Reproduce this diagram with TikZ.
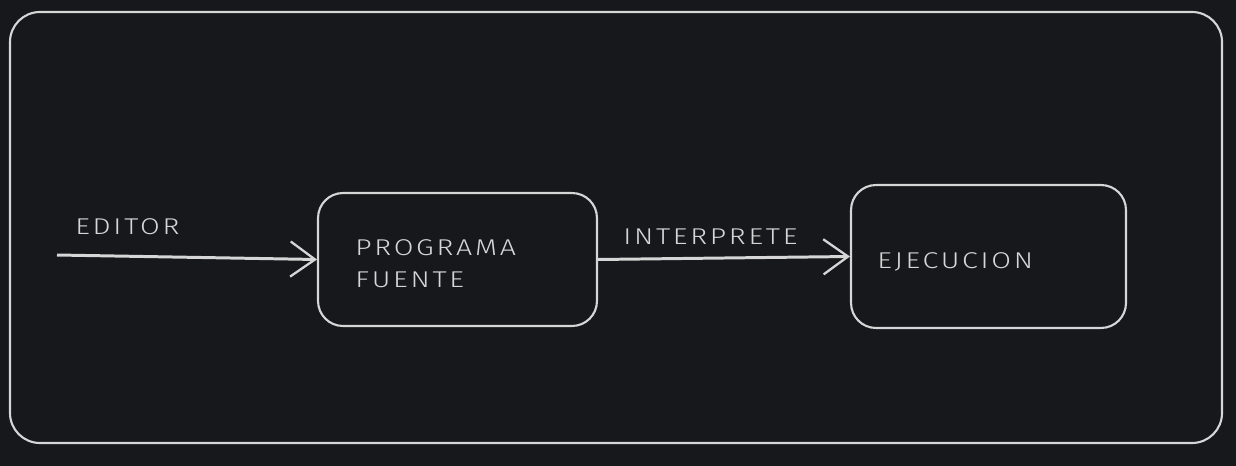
\documentclass[tikz,border=0pt]{standalone}
\usepackage{fontspec}
\setmainfont{Fira Sans Light}[LetterSpace=12, FakeStretch=1.25]
\usetikzlibrary{positioning}
\usepgflibrary{arrows.meta}
\definecolor{fondo}{HTML}{16181C}
\definecolor{trazo}{HTML}{D6D6D6}
\tikzset{
	caja/.style={draw=trazo, line width=1.2pt, rounded corners=0.5cm},
	etiqueta/.style={text=trazo, font=\fontsize{13}{15}\selectfont, inner sep=0pt, anchor=west},
	flecha/.style={draw=trazo, line width=1.7pt, -{Straight Barb[length=14pt,width=20pt,line width=1.3pt]}}
}
\begin{document}
\begin{tikzpicture}[x=0.02cm, y=-0.02cm]
		\fill [fondo] (0,0) rectangle (1236,466);
		\useasboundingbox (0,0) rectangle (1236,466);
		\draw [draw=trazo, line width=1.2pt, rounded corners=0.6cm] (10,12) rectangle (1222,443);

		\node [caja, minimum width=5.58cm, minimum height=2.66cm] (fuente) at (457.5,259.5) {};
		\node [caja, minimum width=5.5cm, minimum height=2.86cm] (ejec) at (988.5,256.5) {};

		\coordinate (inicio) at (57,255);
		\draw [flecha] (inicio) -- (fuente.west);
		\draw [flecha] (fuente.east) -- (ejec.west);

		\node [etiqueta] (editor) at (75,227) {EDITOR};
		\node [etiqueta] (interp) at (623,237) {INTERPRETE};
		\node [etiqueta, align=left] (prog) at (355,263.5) {PROGRAMA\\[3pt]FUENTE};
		\node [etiqueta] (ejecucion) at (877,262) {EJECUCION};
	\end{tikzpicture}
\end{document}
